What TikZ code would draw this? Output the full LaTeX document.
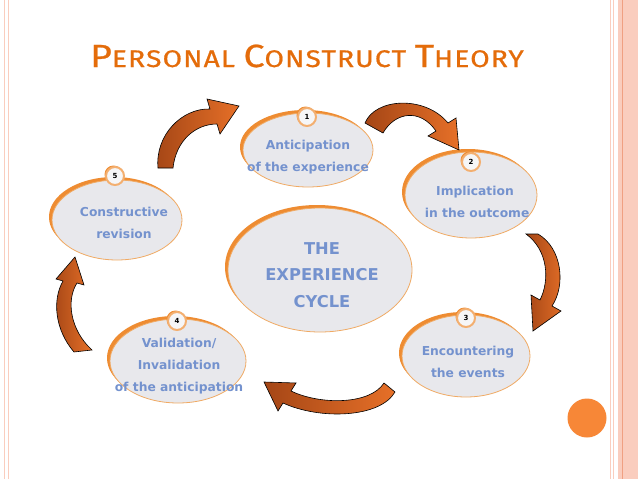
\documentclass[tikz,border=0pt]{standalone}
\usepackage{fontspec}
\setmainfont{DejaVu Sans}
\newfontfamily\titlefont[FakeStretch=1.17, LetterSpace=5, FakeBold=0.8]{Fira Sans}
\usetikzlibrary{shapes.geometric}

\definecolor{titleorange}{RGB}{228,108,10}
\definecolor{stagefill}{RGB}{232,232,236}
\definecolor{stageline}{RGB}{240,170,100}
\definecolor{stagerim}{RGB}{238,140,50}
\definecolor{stagetext}{RGB}{116,146,206}
\definecolor{arrowdark}{RGB}{165,70,22}
\definecolor{arrowlight}{RGB}{230,112,40}
\definecolor{borderpink}{RGB}{250,205,190}
\definecolor{borderline}{RGB}{240,160,130}
\definecolor{dotorange}{RGB}{247,135,55}

\newcommand{\tbig}[1]{{\fontsize{32}{32}\selectfont #1}}
\newcommand{\tsmall}[1]{{\fontsize{24}{24}\selectfont #1}}

\tikzset{
    stage/.style={ellipse, draw=stageline, fill=stagefill, line width=0.8pt,
        inner sep=0pt,
        preaction={fill=stagerim, transform canvas={shift={(-3pt,3pt)}}}},
    stagelabel/.style={text=stagetext, align=center,
        font=\fontsize{12.3}{22}\selectfont\bfseries},
    numcircle/.style={circle, draw=stagerim!70, fill=stagefill!40, line width=2pt,
        minimum size=18pt, inner sep=0pt, font=\fontsize{7}{7}\selectfont\bfseries,
        preaction={fill=stagerim, transform canvas={shift={(-1.5pt,1.5pt)}}}},
    arrowbody/.style={draw=black, line width=0.6pt,
        left color=arrowdark, right color=arrowlight},
}

\begin{document}
\begin{tikzpicture}[x=1pt, y=-1pt]

\useasboundingbox[fill=white] (0,0) rectangle (638,479);

% =============================================================================
% Page frame
% =============================================================================
\draw[borderpink, line width=1pt] (4,0) -- (4,479);
\draw[borderpink, line width=1pt] (8,0) -- (8,479);
\draw[borderpink, line width=1pt] (610,0) -- (610,479);
\draw[borderpink, line width=1pt] (613,0) -- (613,479);
\fill[borderpink] (618,0) rectangle (638,479);
\draw[borderline, line width=0.8pt] (622,0) -- (622,479);
\fill[dotorange] (587,418) circle (19.5pt);

% Title
\node[anchor=base west, text=titleorange, font=\titlefont, inner sep=0pt]
    (title) at (90,67)
    {\tbig{P}\tsmall{ERSONAL }\tbig{C}\tsmall{ONSTRUCT }\tbig{T}\tsmall{HEORY}};

% =============================================================================
% Stages of the cycle
% =============================================================================
\node[stage, minimum width=184pt, minimum height=124pt] (centre) at (320,270) {};
\node[stagelabel, font=\fontsize{16.3}{26.5}\selectfont\bfseries]
    (centretext) at (322,275) {THE\\EXPERIENCE\\CYCLE};

% 1: anticipation
\node[stage, minimum width=130pt, minimum height=74pt] (e1) at (308,150) {};
\node[stagelabel] (t1) at (308,157) {Anticipation\\of the experience};
\node[numcircle] (n1) at (307,117) {1};

% 2: implication
\node[stage, minimum width=132pt, minimum height=86pt] (e2) at (471,195) {};
\node[stagelabel] (t2) at (475,202) {Implication\\\ in the outcome};
\node[numcircle] (n2) at (471,162) {2};

% 3: encountering
\node[stage, minimum width=128pt, minimum height=82pt] (e3) at (466,356) {};
\node[stagelabel] (t3) at (468,362) {Encountering\\the events};
\node[numcircle] (n3) at (466,318) {3};

% 4: validation
\node[stage, minimum width=136pt, minimum height=84pt] (e4) at (178,361) {};
\node[stagelabel] (t4) at (179,366) {Validation/\\Invalidation\\of the anticipation};
\node[numcircle] (n4) at (177,321) {4};

% 5: revision
\node[stage, minimum width=130pt, minimum height=80pt] (e5) at (117,220) {};
\node[stagelabel] (t5) at (124,223) {Constructive\\revision};
\node[numcircle] (n5) at (115,176) {5};

% =============================================================================
% Curved arrows between the stages
% =============================================================================
% 5 -> 1
\draw[arrowbody] (158,168) .. controls (155,135) and (182,108) .. (210,109)
    -- (207,99) -- (239,106) -- (220,134) -- (217,124)
    .. controls (196,124) and (176,140) .. (173,168) -- cycle;

% 1 -> 2
\draw[arrowbody] (365,123) .. controls (375,98) and (425,95) .. (448,123)
    -- (456,118) -- (459,150) -- (428,136) -- (436,131)
    .. controls (420,108) and (395,112) .. (383,133) -- cycle;

% 2 -> 3
\draw[arrowbody] (538,234) .. controls (562,248) and (566,285) .. (552,306)
    -- (561,311) -- (533,331) -- (531,295) -- (540,300)
    .. controls (550,280) and (548,250) .. (526,234) -- cycle;

% 3 -> 4
\draw[arrowbody] (395,392) .. controls (380,418) and (320,420) .. (283,403)
    -- (278,411) -- (264,382) -- (296,383) -- (291,391)
    .. controls (320,405) and (370,405) .. (384,383) -- cycle;

% 4 -> 5
\draw[arrowbody] (74,352) .. controls (55,330) and (52,300) .. (63,281)
    -- (56,279) -- (75,257) -- (84,285) -- (77,283)
    .. controls (66,300) and (70,330) .. (92,350) -- cycle;

\end{tikzpicture}
\end{document}
